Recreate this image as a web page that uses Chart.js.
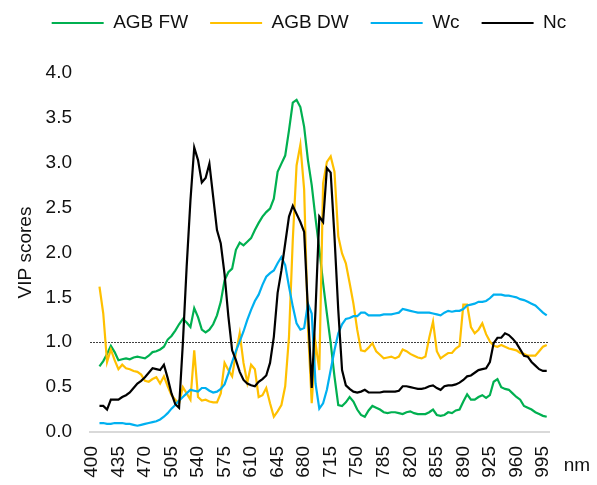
<!DOCTYPE html>
<html lang="en">
<head>
    <meta charset="UTF-8">
    <title>VIP scores</title>
    <script src="https://cdn.jsdelivr.net/npm/chart.js"></script>
    <style>
        html, body {
            margin: 0;
            padding: 0;
            background-color: #fff;
        }
        .chart-box {
            width: 597px;
            height: 485px;
        }
    </style>
</head>
<body>
    <div class="chart-box">
        <canvas id="vipChart"></canvas>
    </div>

    <script>
        // wavelength (nm) of each point
        const wavelengths = [
            410, 415, 420, 425, 430, 435, 440, 445, 450, 455,
            460, 465, 470, 475, 480, 485, 490, 495, 500, 505,
            510, 515, 520, 525, 530, 535, 540, 545, 550, 555,
            560, 565, 570, 575, 580, 585, 590, 595, 600, 605,
            610, 615, 620, 625, 630, 635, 640, 645, 650, 655,
            660, 665, 670, 675, 680, 685, 690, 695, 700, 705,
            710, 715, 720, 725, 730, 735, 740, 745, 750, 755,
            760, 765, 770, 775, 780, 785, 790, 795, 800, 805,
            810, 815, 820, 825, 830, 835, 840, 845, 850, 855,
            860, 865, 870, 875, 880, 885, 890, 895, 900, 905,
            910, 915, 920, 925, 930, 935, 940, 945, 950, 955,
            960, 965, 970, 975, 980, 985, 990, 995, 1000
        ];

        const agbFW = [
            0.73, 0.79, 0.87, 0.96, 0.89, 0.80, 0.81, 0.82, 0.81, 0.83,
            0.84, 0.83, 0.82, 0.85, 0.89, 0.90, 0.92, 0.95, 1.03, 1.07,
            1.13, 1.20, 1.26, 1.22, 1.17, 1.38, 1.28, 1.14, 1.11, 1.14,
            1.20, 1.30, 1.45, 1.69, 1.78, 1.82, 2.03, 2.11, 2.08, 2.12,
            2.16, 2.25, 2.33, 2.40, 2.45, 2.49, 2.60, 2.90, 2.99, 3.08,
            3.36, 3.67, 3.70, 3.62, 3.40, 3.03, 2.75, 2.38, 2.04, 1.66,
            1.32, 0.99, 0.62, 0.30, 0.29, 0.33, 0.39, 0.34, 0.25, 0.19,
            0.17, 0.24, 0.29, 0.27, 0.25, 0.22, 0.21, 0.22, 0.22, 0.21,
            0.20, 0.22, 0.23, 0.21, 0.20, 0.20, 0.20, 0.22, 0.25, 0.19,
            0.18, 0.19, 0.22, 0.21, 0.24, 0.25, 0.34, 0.42, 0.36, 0.36,
            0.39, 0.41, 0.38, 0.41, 0.56, 0.59, 0.50, 0.48, 0.47, 0.43,
            0.39, 0.36, 0.29, 0.27, 0.25, 0.22, 0.20, 0.18, 0.17
        ];

        const agbDW = [
            1.62, 1.32, 0.78, 0.92, 0.80, 0.70, 0.75, 0.71, 0.70, 0.68,
            0.67, 0.64, 0.57, 0.56, 0.59, 0.61, 0.54, 0.62, 0.51, 0.41,
            0.36, 0.32, 0.50, 0.43, 0.36, 0.91, 0.39, 0.35, 0.36, 0.34,
            0.33, 0.33, 0.43, 0.77, 0.69, 0.62, 0.88, 1.10, 0.77, 0.55,
            0.75, 0.70, 0.39, 0.41, 0.49, 0.32, 0.17, 0.23, 0.30, 0.51,
            1.06, 2.14, 2.97, 3.20, 2.70, 1.17, 0.32, 0.99, 0.69, 2.77,
            3.01, 3.07, 2.90, 2.18, 1.99, 1.88, 1.66, 1.43, 1.14, 0.91,
            0.90, 0.94, 0.99, 0.90, 0.86, 0.82, 0.83, 0.84, 0.82, 0.84,
            0.92, 0.90, 0.87, 0.85, 0.83, 0.82, 0.84, 1.05, 1.23, 0.90,
            0.82, 0.85, 0.88, 0.88, 0.93, 0.96, 1.42, 1.42, 1.17, 1.10,
            1.14, 1.21, 1.09, 1.01, 0.96, 0.95, 0.97, 0.95, 0.93, 0.92,
            0.91, 0.88, 0.87, 0.85, 0.85, 0.85, 0.90, 0.95, 0.97
        ];

        const wc = [
            0.10, 0.10, 0.09, 0.09, 0.10, 0.10, 0.10, 0.09, 0.09, 0.08,
            0.07, 0.08, 0.09, 0.10, 0.11, 0.12, 0.14, 0.17, 0.21, 0.26,
            0.30, 0.35, 0.39, 0.43, 0.47, 0.46, 0.45, 0.49, 0.49, 0.46,
            0.44, 0.45, 0.48, 0.53, 0.65, 0.78, 0.90, 1.01, 1.12, 1.25,
            1.36, 1.46, 1.53, 1.64, 1.73, 1.77, 1.80, 1.88, 1.95, 1.86,
            1.62, 1.40, 1.21, 1.14, 1.16, 1.43, 1.32, 0.54, 0.26, 0.32,
            0.47, 0.69, 0.91, 1.10, 1.20, 1.26, 1.27, 1.29, 1.29, 1.33,
            1.33, 1.30, 1.30, 1.30, 1.30, 1.31, 1.31, 1.31, 1.32, 1.33,
            1.37, 1.36, 1.35, 1.34, 1.33, 1.33, 1.33, 1.33, 1.32, 1.31,
            1.30, 1.33, 1.35, 1.34, 1.35, 1.35, 1.37, 1.41, 1.42, 1.43,
            1.45, 1.45, 1.46, 1.49, 1.53, 1.53, 1.53, 1.52, 1.52, 1.51,
            1.50, 1.48, 1.47, 1.45, 1.43, 1.41, 1.37, 1.33, 1.30
        ];

        const nc = [
            0.29, 0.29, 0.25, 0.36, 0.36, 0.36, 0.39, 0.41, 0.44, 0.49,
            0.54, 0.57, 0.61, 0.66, 0.71, 0.70, 0.69, 0.75, 0.60, 0.43,
            0.31, 0.27, 0.99, 1.84, 2.58, 3.17, 3.03, 2.78, 2.83, 2.99,
            2.62, 2.25, 2.10, 1.76, 1.29, 0.91, 0.80, 0.67, 0.58, 0.54,
            0.52, 0.51, 0.56, 0.59, 0.63, 0.77, 1.06, 1.55, 1.80, 2.10,
            2.40, 2.52, 2.43, 2.34, 2.23, 1.36, 0.49, 1.36, 2.40, 2.34,
            2.94, 2.89, 2.18, 1.36, 0.69, 0.52, 0.48, 0.45, 0.44, 0.45,
            0.47, 0.44, 0.44, 0.44, 0.44, 0.45, 0.45, 0.45, 0.45, 0.46,
            0.51, 0.51, 0.50, 0.49, 0.48, 0.48, 0.49, 0.51, 0.52, 0.49,
            0.47, 0.51, 0.52, 0.52, 0.53, 0.55, 0.58, 0.62, 0.63, 0.66,
            0.69, 0.70, 0.71, 0.78, 0.99, 1.05, 1.05, 1.10, 1.08, 1.04,
            0.99, 0.92, 0.85, 0.84, 0.78, 0.74, 0.70, 0.68, 0.68
        ];

        const xTickLabels = [400, 435, 470, 505, 540, 575, 610, 645, 680, 715, 750, 785, 820, 855, 890, 925, 960, 995];
        const vipThreshold = 1.0;

        const FONT = { family: "'Liberation Sans', Arial, sans-serif", size: 19 };
        const TEXT = '#111';

        const toPoints = values => values.map((v, i) => ({ x: wavelengths[i], y: v }));

        const series = [
            { label: 'AGB FW', values: agbFW, color: '#00B050', order: 3 },
            { label: 'AGB DW', values: agbDW, color: '#FFC000', order: 2 },
            { label: 'Wc', values: wc, color: '#00B0F0', order: 1 },
            { label: 'Nc', values: nc, color: '#000000', order: 0 }
        ];

        // dotted 1.0 line, one-row legend and the "nm" unit label
        const extras = {
            id: 'extras',
            afterInit(chart) {
                const lg = chart.legend;
                const fit = lg.fit;
                lg.fit = function () {
                    this.maxWidth = 640;
                    fit.call(this);
                };
            },
            afterLayout(chart) {
                const lg = chart.legend;
                lg.top -= 30.5;
                lg.bottom -= 30.5;
                lg.left = 21;
                lg.right = 597;
                lg.width = 576;
            },
            beforeDatasetsDraw(chart) {
                const { ctx, chartArea, scales } = chart;
                const y = Math.round(scales.y.getPixelForValue(vipThreshold)) + 0.5;
                ctx.save();
                ctx.strokeStyle = '#404040';
                ctx.lineWidth = 1;
                ctx.setLineDash([2, 1]);
                ctx.beginPath();
                ctx.moveTo(chartArea.left, y);
                ctx.lineTo(chartArea.right, y);
                ctx.stroke();
                ctx.restore();
            },
            afterDraw(chart) {
                const { ctx, chartArea } = chart;
                ctx.save();
                ctx.font = `${FONT.size}px ${FONT.family}`;
                ctx.fillStyle = TEXT;
                ctx.textAlign = 'center';
                ctx.textBaseline = 'middle';
                ctx.fillText('nm', chartArea.right + 28, chartArea.bottom + 34);
                ctx.restore();
            }
        };

        new Chart(document.getElementById('vipChart'), {
            type: 'line',
            data: {
                datasets: series.map(s => ({
                    label: s.label,
                    data: toPoints(s.values),
                    borderColor: s.color,
                    backgroundColor: s.color,
                    borderWidth: 2.2,
                    pointRadius: 0,
                    tension: 0,
                    order: s.order
                }))
            },
            options: {
                responsive: true,
                maintainAspectRatio: false,
                animation: false,
                layout: { padding: { top: 22, right: 48, left: 0, bottom: 0 } },
                plugins: {
                    tooltip: { enabled: false },
                    legend: {
                        position: 'top',
                        reverse: true,
                        labels: {
                            usePointStyle: true,
                            pointStyle: 'line',
                            pointStyleWidth: 52,
                            padding: 22,
                            color: TEXT,
                            font: FONT
                        }
                    }
                },
                scales: {
                    x: {
                        type: 'linear',
                        min: 397.5,
                        max: 1003,
                        grid: { display: false, drawTicks: false },
                        border: { display: true, color: '#D9D9D9', width: 2 },
                        afterBuildTicks: axis => {
                            axis.ticks = xTickLabels.map(v => ({ value: v }));
                        },
                        afterFit: axis => { axis.height = 53; },
                        ticks: {
                            autoSkip: false,
                            minRotation: 90,
                            maxRotation: 90,
                            padding: 14,
                            color: TEXT,
                            font: FONT,
                            callback: v => String(v)
                        }
                    },
                    y: {
                        min: 0,
                        max: 4,
                        grid: { display: false, drawTicks: false },
                        border: { display: false },
                        afterFit: axis => { axis.width = 90; },
                        ticks: {
                            stepSize: 0.5,
                            padding: 18,
                            color: TEXT,
                            font: FONT,
                            callback: v => Number(v).toFixed(1)
                        },
                        title: {
                            display: true,
                            text: 'VIP scores',
                            color: TEXT,
                            font: FONT,
                            padding: { top: 14, bottom: 0 }
                        }
                    }
                }
            },
            plugins: [extras]
        });
    </script>
</body>
</html>
